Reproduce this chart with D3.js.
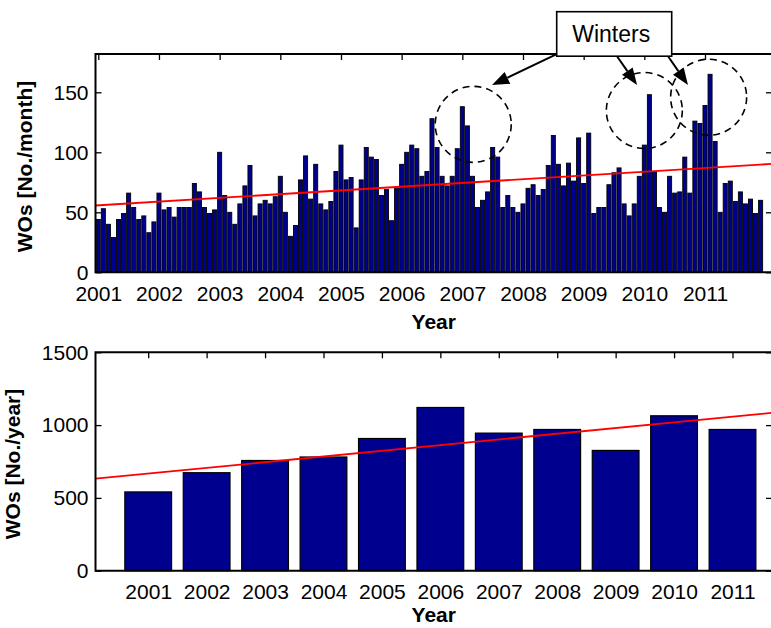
<!DOCTYPE html>
<html><head><meta charset="utf-8">
<script src="https://cdn.jsdelivr.net/npm/d3@7"></script>
<style>
body{margin:0;background:#fff;}
svg{display:block;}
text{font-family:"Liberation Sans",Arial,Helvetica,sans-serif;fill:#000;}
</style>
</head><body>
<svg id="chart" width="771" height="628"></svg>
<script>
// ---------------- data ----------------
const years = [2001,2002,2003,2004,2005,2006,2007,2008,2009,2010,2011];
const monthlyWOs = [
  44,53,40,29,44,49,66,54,44,47,33,42,
  66,52,54,46,54,54,54,74,67,54,49,52,
  100,64,50,40,57,72,89,47,57,60,57,63,
  80,50,30,39,77,97,61,90,57,52,59,84,
  106,77,79,37,77,104,96,94,64,69,43,70,
  90,100,106,103,80,84,128,104,80,72,80,103,
  138,122,80,54,60,67,104,96,54,64,54,50,
  57,70,73,64,69,89,114,90,72,91,76,112,
  74,116,49,54,54,73,83,87,57,47,57,80,
  106,148,84,54,50,80,66,67,96,66,126,124,
  139,165,109,50,74,76,59,67,57,61,49,60
];
const yearlyWOs = [541,673,757,781,908,1121,945,970,826,1064,970];
const monthlyTrendYears = [2001,2012];
const monthlyTrendValues = [55.8,90.0];
const yearlyTrendYears = [2001,2011];
const yearlyTrendValues = [667,1058];
const monthlyYTicks = [0,50,100,150];
const yearlyYTicks = [0,500,1000,1500];
const monthlyYLabel = "WOs [No./month]";
const yearlyYLabel = "WOs [No./year]";
const xLabel = "Year";
const winterLabel = "Winters";
// winter circles (centre year, centre value) and arrow tips (year, value)
const winterCircleYears = [2007.18,2010.0,2011.06];
const winterCircleValues = [123.3,134.8,145.9];
const arrowTipYears = [2007.49,2009.88,2010.72];
const arrowTipValues = [156,156,156];

// ---------------- layout ----------------
const svg = d3.select("#chart");
const C = {bar:"#00008f", trend:"#ff0000"};
const FS = 21;
const L = 95.5, R = 772;

function trendLine(g, x, y, ty, tv, x0, x1){
  const slope = (tv[1]-tv[0])/(ty[1]-ty[0]);
  const f = t => tv[0] + slope*(t-ty[0]);
  const a = x.invert(x0), b = x.invert(x1);
  g.append("path")
    .attr("d", d3.line().x(d=>x(d)).y(d=>y(f(d)))([a,b]))
    .attr("fill","none").attr("stroke",C.trend).attr("stroke-width",1.8);
}

function axesFrame(g, x, y, top, bottom, yTicks, xTickVals){
  const left = d3.axisLeft(y).tickValues(yTicks).tickSize(-6).tickPadding(7).tickFormat(d3.format("d"));
  const la = g.append("g").attr("transform",`translate(${L},0)`).call(left);
  la.select(".domain").remove();
  la.selectAll("line").attr("stroke","#000").attr("stroke-width",1.3);
  la.selectAll("text").attr("font-size",FS).attr("fill","#000");
  const right = d3.axisRight(y).tickValues(yTicks).tickSize(-6).tickFormat("");
  const ra = g.append("g").attr("transform",`translate(${R},0)`).call(right);
  ra.select(".domain").remove();
  ra.selectAll("line").attr("stroke","#000").attr("stroke-width",1.3);
  const topAx = d3.axisTop(x).tickValues(xTickVals).tickSize(-6).tickFormat("");
  const ta = g.append("g").attr("transform",`translate(0,${top})`).call(topAx);
  ta.select(".domain").remove();
  ta.selectAll("line").attr("stroke","#000").attr("stroke-width",1.3);
  const botAx = d3.axisBottom(x).tickValues(xTickVals).tickSize(-6).tickPadding(13.5).tickFormat(d3.format("d"));
  const ba = g.append("g").attr("transform",`translate(0,${bottom})`).call(botAx);
  ba.select(".domain").remove();
  ba.selectAll("line").attr("stroke","#000").attr("stroke-width",1.3);
  ba.selectAll("text").attr("font-size",FS).attr("fill","#000");
}

function box(g, top, bottom){
  g.append("path")
    .attr("d",`M${R},${top}H${L}V${bottom}H${R}`)
    .attr("fill","none").attr("stroke","#000").attr("stroke-width",2);
  g.append("line").attr("x1",R).attr("x2",R).attr("y1",top).attr("y2",bottom)
    .attr("stroke","#000").attr("stroke-width",2);
}

// ---------------- top panel: monthly ----------------
const T = {top:54, bottom:272.3};
const xM = d3.scaleLinear().domain([2001,2011]).range([98.3,705]);
const yM = d3.scaleLinear().domain([0,150]).range([T.bottom,92.3]);
const gT = svg.append("g");
axesFrame(gT, xM, yM, T.top, T.bottom, monthlyYTicks, years);

const step = xM(2001+1/12)-xM(2001);
gT.append("g").selectAll("rect").data(monthlyWOs).join("rect")
  .attr("x",(d,i)=>xM(2001+i/12)-step*0.4)
  .attr("width",step*0.8)
  .attr("y",d=>yM(d))
  .attr("height",d=>yM(0)-yM(d))
  .attr("fill",C.bar).attr("stroke","#000").attr("stroke-width",0.9);

trendLine(gT, xM, yM, monthlyTrendYears, monthlyTrendValues, L, R);
box(gT, T.top, T.bottom);

gT.append("text").attr("transform",`translate(32,166.5) rotate(-90)`)
  .attr("text-anchor","middle").attr("font-size",FS).attr("font-weight","bold").text(monthlyYLabel);
gT.append("text").attr("x",(L+R)/2).attr("y",329).attr("text-anchor","middle")
  .attr("font-size",FS).attr("font-weight","bold").text(xLabel);

// annotations
const ann = gT.append("g");
ann.selectAll("circle").data(winterCircleYears).join("circle")
  .attr("cx",d=>xM(d)).attr("cy",(d,i)=>yM(winterCircleValues[i])).attr("r",38)
  .attr("fill","none").attr("stroke","#000").attr("stroke-width",1.6).attr("stroke-dasharray","7,5");
const boxX = 556.7, boxY = 11.7, boxW = 115, boxH = 44.5;
const starts = [[boxX,boxY+boxH-2],[617,boxY+boxH],[668,boxY+boxH]];
arrowTipYears.forEach((ty,i)=>{
  const tx = xM(ty), tyy = yM(arrowTipValues[i]);
  const [sx,sy] = starts[i];
  const ang = Math.atan2(tyy-sy, tx-sx);
  const len = 17, hw = 6.5;
  const bx = tx - len*Math.cos(ang), by = tyy - len*Math.sin(ang);
  ann.append("line").attr("x1",sx).attr("y1",sy).attr("x2",bx).attr("y2",by)
    .attr("stroke","#000").attr("stroke-width",2);
  const px = -Math.sin(ang)*hw, py = Math.cos(ang)*hw;
  ann.append("path").attr("d",`M${tx},${tyy}L${bx+px},${by+py}L${bx-px},${by-py}Z`).attr("fill","#000");
});
ann.append("rect").attr("x",boxX).attr("y",boxY).attr("width",boxW).attr("height",boxH)
  .attr("fill","#fff").attr("stroke","#000").attr("stroke-width",1.6);
ann.append("text").attr("x",boxX+boxW/2-3).attr("y",41.7).attr("text-anchor","middle")
  .attr("font-size",23).text(winterLabel);

// ---------------- bottom panel: yearly ----------------
const B = {top:352.3, bottom:570.7};
const xY = d3.scaleLinear().domain([2001,2011]).range([148.2,732.5]);
const yY = d3.scaleLinear().domain([0,1500]).range([B.bottom,B.top]);
const gB = svg.append("g");
axesFrame(gB, xY, yY, B.top, B.bottom, yearlyYTicks, years);
const stepY = xY(2002)-xY(2001);
gB.append("g").selectAll("rect").data(yearlyWOs).join("rect")
  .attr("x",(d,i)=>xY(years[i])-stepY*0.4)
  .attr("width",stepY*0.8)
  .attr("y",d=>yY(d))
  .attr("height",d=>yY(0)-yY(d))
  .attr("fill",C.bar).attr("stroke","#000").attr("stroke-width",1.2);
trendLine(gB, xY, yY, yearlyTrendYears, yearlyTrendValues, L, R);
box(gB, B.top, B.bottom);
gB.append("text").attr("transform",`translate(20.3,464) rotate(-90)`)
  .attr("text-anchor","middle").attr("font-size",FS).attr("font-weight","bold").text(yearlyYLabel);
gB.append("text").attr("x",(L+R)/2).attr("y",622).attr("text-anchor","middle")
  .attr("font-size",FS).attr("font-weight","bold").text(xLabel);
</script>
</body></html>
